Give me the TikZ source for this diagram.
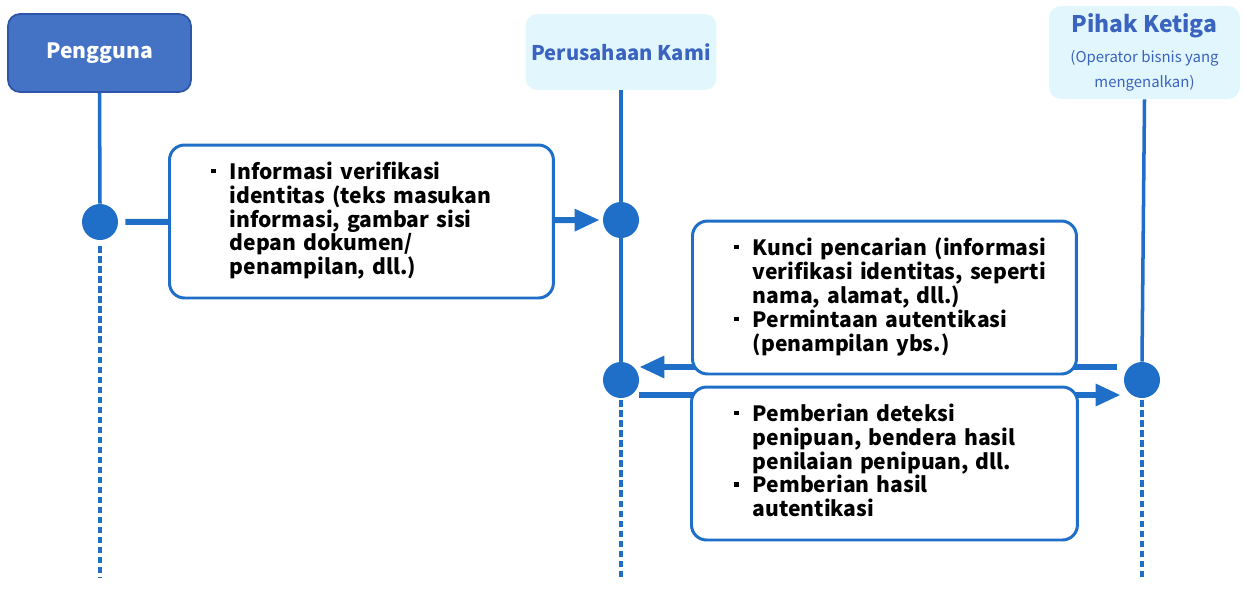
\documentclass[tikz,border=0pt]{standalone}
\usepackage{fontspec}
\setmainfont{Noto Sans CJK JP}
\usetikzlibrary{arrows.meta,calc,positioning}

\definecolor{lineblue}{RGB}{31,111,200}
\definecolor{userfill}{RGB}{68,114,196}
\definecolor{useredge}{RGB}{47,85,170}
\definecolor{paleblue}{RGB}{225,246,253}
\definecolor{headtext}{RGB}{59,99,192}

% small square bullet sitting at cap height
\newcommand{\bul}{\raisebox{0.55ex}{\rule{0.2em}{0.2em}}}

\tikzset{
  userbox/.style={draw=useredge, line width=1pt, fill=userfill, rounded corners=0.24cm,
    text=white, font=\fontsize{12}{15}\selectfont\bfseries,
    minimum width=3.66cm, minimum height=1.56cm},
  orgbox/.style={fill=paleblue, rounded corners=0.24cm, text=headtext, align=center,
    font=\fontsize{11.5}{14}\selectfont\bfseries},
  dot/.style={circle, fill=lineblue, inner sep=0pt, minimum size=0.72cm},
  life/.style={lineblue, line width=2pt},
  lifedots/.style={lineblue, line width=2pt, dash pattern=on 3.5pt off 2.2pt},
  msg/.style={lineblue, line width=3.4pt, -{Triangle[length=0.5cm,width=0.42cm]}},
  msgbox/.style={draw=lineblue, line width=1.7pt, fill=white, rounded corners=0.3cm,
    minimum width=7.68cm, minimum height=3.06cm, anchor=west,
    text width=6cm, inner xsep=0.82cm, align=left,
    font=\fontsize{12}{12}\selectfont\bfseries}
}

\begin{document}
\begin{tikzpicture}[x=0.02cm, y=-0.02cm]

\useasboundingbox (0,0) rectangle (1244,613);

% Heads of the three lifelines
\node[userbox] (user) at (99.5,53) {Pengguna};
\node[orgbox, minimum width=3.68cm, minimum height=1.52cm] (company) at (621,52) {Perusahaan Kami};
\node[orgbox, minimum width=3.82cm, minimum height=1.86cm] (third) at (1144.5,52.5)
  {{\fontsize{13}{16}\selectfont Pihak Ketiga}\\[3pt]
   {\fontsize{8.5}{12}\selectfont\mdseries (Operator bisnis yang}\\
   {\fontsize{8.5}{12}\selectfont\mdseries mengenalkan)}};

% Points where messages leave and arrive
\node[dot] (uDot) at (100,222) {};
\node[dot] (cDotA) at (621,220) {};
\node[dot] (cDotB) at (621,380) {};
\node[dot] (tDot) at (1142,380) {};

% Bottom ends of the lifelines
\coordinate (uEnd) at (100,577);
\coordinate (cEnd) at (621,577);
\coordinate (tEnd) at (1142,577);

% Lifelines: solid down to the last point, dotted after it
\draw[life] (user.south) -- (uDot.north);
\draw[life] (company.south) -- (cDotB.north);
\draw[life] (third.south) -- (tDot.north);
\draw[lifedots] ([yshift=-0.12cm]uDot.south) -- (uEnd);
\draw[lifedots] ([yshift=-0.04cm]cDotB.south) -- (cEnd);
\draw[lifedots] ([yshift=-0.04cm]tDot.south) -- (tEnd);

% Message arrows (the boxes sit on top of them)
\draw[msg, shorten <=0.14cm, shorten >=0.06cm] (uDot.east) -- (cDotA.west);
\draw[msg, shorten <=0.06cm] ($(tDot.west)+(-4,-13)$) -- ($(cDotB.east)+(0,-13)$);
\draw[msg, shorten >=0.06cm] ($(cDotB.east)+(0,15)$) -- ($(tDot.west)+(0,15)$);

% Message contents
\node[msgbox] (msgA) at (168,221.5) {%
  \begin{tabular}{@{}l@{\hspace{8pt}}l@{}}
  \bul & Informasi verifikasi\\
       & identitas (teks masukan\\
       & informasi, gambar sisi\\
       & depan dokumen/\\
       & penampilan, dll.)
  \end{tabular}};
\node[msgbox] (msgB) at (691,297.5) {%
  \begin{tabular}{@{}l@{\hspace{8pt}}l@{}}
  \bul & Kunci pencarian (informasi\\
       & verifikasi identitas, seperti\\
       & nama, alamat, dll.)\\
  \bul & Permintaan autentikasi\\
       & (penampilan ybs.)
  \end{tabular}};
\node[msgbox, inner xsep=0.86cm] (msgC) at (690,463.5) {%
  \begin{tabular}{@{}l@{\hspace{8pt}}l@{}}
  \bul & Pemberian deteksi\\
       & penipuan, bendera hasil\\
       & penilaian penipuan, dll.\\
  \bul & Pemberian hasil\\
       & autentikasi
  \end{tabular}};

\end{tikzpicture}
\end{document}
